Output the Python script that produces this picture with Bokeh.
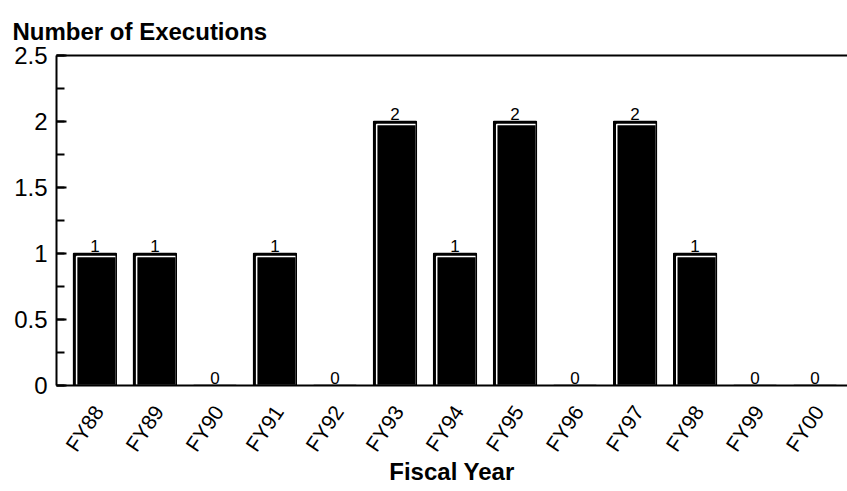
import math
from bokeh.plotting import figure
from bokeh.models import (Range1d, LinearAxis, FixedTicker, SingleIntervalTicker,
                          ColumnDataSource)
from bokeh.transform import dodge
from bokeh.core.properties import value
from bokeh.embed import file_html
from bokeh.resources import INLINE

# ---- data ----
years = ["FY88", "FY89", "FY90", "FY91", "FY92", "FY93", "FY94",
         "FY95", "FY96", "FY97", "FY98", "FY99", "FY00"]
executions = [1, 1, 0, 1, 0, 2, 1, 2, 0, 2, 1, 0, 0]
y_ticks = [0, 0.5, 1, 1.5, 2, 2.5]
y_tick_labels = ["0", "0.5", "1", "1.5", "2", "2.5"]
title_text = "Number of Executions"
x_title = "Fiscal Year"

FONT = "Liberation Sans"

idx = list(range(len(years)))
src = ColumnDataSource(dict(x=idx, top=executions,
                            lbl=[str(v) for v in executions]))

p = figure(width=847, height=491, output_backend="svg", toolbar_location=None,
           x_range=Range1d(-0.64, 12.54), y_range=Range1d(0, 2.5),
           x_axis_type=None, y_axis_type=None,
           min_border_left=56, min_border_right=0, min_border_top=55,
           min_border_bottom=106)
p.outline_line_color = None
p.xgrid.visible = False
p.ygrid.visible = False
p.background_fill_color = "white"
p.border_fill_color = "white"

BW = 0.71
D = 0.05     # inner inset (x units)
E = 0.023    # inner inset (y units)

# outer black bar
p.vbar(x="x", top="top", width=BW, source=src, fill_color="black",
       line_color="black", line_width=1)
# inner bar with white highlight on top/left
p.vbar(x=dodge("x", D / 2), top=dodge("top", -E), width=BW - D, source=src,
       fill_color="black", line_color="white", line_width=1.5)
# outer outline on top
p.vbar(x="x", top="top", width=BW, source=src, fill_color=None,
       line_color="black", line_width=1.5)

# value labels
p.text(x="x", y="top", text="lbl", source=src, text_align="center",
       text_baseline="bottom", y_offset=-2, text_font=value(FONT),
       text_font_size="17px", text_color="black")

# y axis
yax = LinearAxis(ticker=SingleIntervalTicker(interval=0.5, num_minor_ticks=2))
yax.major_label_overrides = {t: l for t, l in zip(y_ticks, y_tick_labels)}
yax.axis_line_width = 2
yax.major_tick_in = 10
yax.major_tick_out = 0
yax.minor_tick_in = 8
yax.minor_tick_out = 0
yax.major_tick_line_width = 2
yax.minor_tick_line_width = 2
yax.major_label_standoff = 9
yax.major_label_text_font = FONT
yax.major_label_text_font_size = "24px"
yax.major_label_text_color = "black"
p.add_layout(yax, "left")

# x axis (labels nudged slightly right of bar centres, no tick marks)
LBL_SHIFT = 0.06
xticks = [i + LBL_SHIFT for i in idx]
xax = LinearAxis(ticker=FixedTicker(ticks=xticks))
xax.major_label_overrides = {t: y for t, y in zip(xticks, years)}
xax.major_label_orientation = 0.98
xax.axis_line_width = 2
xax.major_tick_line_color = None
xax.minor_tick_line_color = None
xax.major_label_standoff = 16
xax.major_label_text_font = FONT
xax.major_label_text_font_size = "21px"
xax.major_label_text_color = "black"
xax.axis_label = x_title
xax.axis_label_text_font = FONT
xax.axis_label_text_font_style = "bold"
xax.axis_label_text_font_size = "24px"
xax.axis_label_text_color = "black"
xax.axis_label_standoff = -7
p.add_layout(xax, "below")

# top border line
tax = LinearAxis(ticker=FixedTicker(ticks=[]))
tax.axis_line_width = 2
tax.major_tick_line_color = None
tax.minor_tick_line_color = None
tax.major_label_text_font_size = "0px"
p.add_layout(tax, "above")

# chart title
p.title.text = title_text
p.title.align = "left"
p.title.vertical_align = "top"
p.title.offset = -44
p.title.text_font = FONT
p.title.text_font_style = "bold"
p.title.text_font_size = "24px"
p.title.text_color = "black"
p.title.standoff = 17

open("out.html", "w").write(file_html(p, INLINE))
